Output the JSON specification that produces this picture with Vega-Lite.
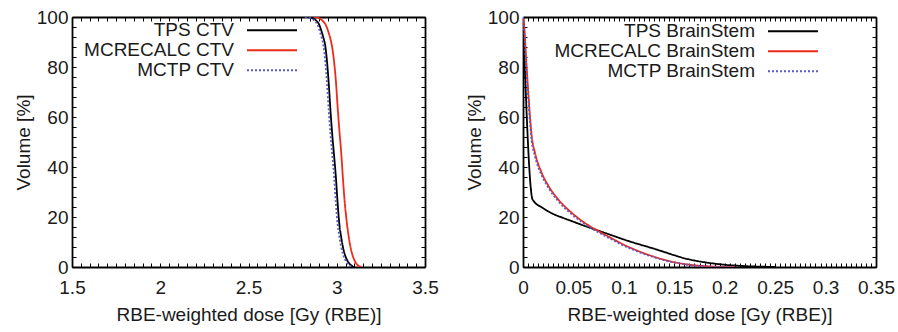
{
  "$schema": "https://vega.github.io/schema/vega-lite/v6.json",
  "padding": {"left": 14, "top": 8, "right": 2, "bottom": 2},
  "spacing": 26,
  "background": "white",
  "resolve": {"scale": {"color": "independent", "strokeDash": "independent"}, "legend": {"color": "independent", "strokeDash": "independent"}},
  "config": {
    "view": {"stroke": null},
    "axis": {
      "labelFont": "Liberation Sans", "titleFont": "Liberation Sans",
      "labelFontSize": 19, "titleFontSize": 19, "titleFontWeight": "normal",
      "labelColor": "#1a1a1a", "titleColor": "#1a1a1a",
      "domainColor": "#000000", "domainWidth": 1.8,
      "tickColor": "#000000", "tickWidth": 1, "tickSize": -4,
      "grid": false, "labelFlush": false, "labelOverlap": false
    },
    "axisX": {"labelPadding": 15, "titlePadding": 8},
    "axisY": {"labelPadding": 8, "titlePadding": 3},
    "legend": {
      "orient": "none", "padding": 0, "rowPadding": 0, "clipHeight": 19.5,
      "symbolType": "stroke", "symbolSize": 2500, "symbolStrokeWidth": 1.8,
      "labelAlign": "right", "labelOffset": -64,
      "labelFont": "Liberation Sans", "labelFontSize": 19, "labelColor": "#1a1a1a",
      "labelLimit": 400
    }
  },
  "datasets": {
    "ctv": [
      {"curve": "TPS CTV", "dose": 2.83, "volume": 100},
      {"curve": "TPS CTV", "dose": 2.86, "volume": 99.6},
      {"curve": "TPS CTV", "dose": 2.88, "volume": 98.8},
      {"curve": "TPS CTV", "dose": 2.90, "volume": 97},
      {"curve": "TPS CTV", "dose": 2.915, "volume": 94},
      {"curve": "TPS CTV", "dose": 2.925, "volume": 91.5},
      {"curve": "TPS CTV", "dose": 2.935, "volume": 88.5},
      {"curve": "TPS CTV", "dose": 2.945, "volume": 82},
      {"curve": "TPS CTV", "dose": 2.955, "volume": 73},
      {"curve": "TPS CTV", "dose": 2.965, "volume": 62},
      {"curve": "TPS CTV", "dose": 2.975, "volume": 52.5},
      {"curve": "TPS CTV", "dose": 2.985, "volume": 44.5},
      {"curve": "TPS CTV", "dose": 2.995, "volume": 36},
      {"curve": "TPS CTV", "dose": 3.005, "volume": 25.5},
      {"curve": "TPS CTV", "dose": 3.015, "volume": 17},
      {"curve": "TPS CTV", "dose": 3.025, "volume": 12},
      {"curve": "TPS CTV", "dose": 3.035, "volume": 8},
      {"curve": "TPS CTV", "dose": 3.045, "volume": 5.2},
      {"curve": "TPS CTV", "dose": 3.055, "volume": 3.3},
      {"curve": "TPS CTV", "dose": 3.065, "volume": 2},
      {"curve": "TPS CTV", "dose": 3.075, "volume": 1.1},
      {"curve": "TPS CTV", "dose": 3.085, "volume": 0.5},
      {"curve": "TPS CTV", "dose": 3.095, "volume": 0},
      {"curve": "MCRECALC CTV", "dose": 2.87, "volume": 100},
      {"curve": "MCRECALC CTV", "dose": 2.90, "volume": 99.5},
      {"curve": "MCRECALC CTV", "dose": 2.92, "volume": 98.5},
      {"curve": "MCRECALC CTV", "dose": 2.94, "volume": 96.5},
      {"curve": "MCRECALC CTV", "dose": 2.955, "volume": 93.5},
      {"curve": "MCRECALC CTV", "dose": 2.965, "volume": 91},
      {"curve": "MCRECALC CTV", "dose": 2.975, "volume": 87.5},
      {"curve": "MCRECALC CTV", "dose": 2.985, "volume": 82},
      {"curve": "MCRECALC CTV", "dose": 2.995, "volume": 74.5},
      {"curve": "MCRECALC CTV", "dose": 3.005, "volume": 64},
      {"curve": "MCRECALC CTV", "dose": 3.015, "volume": 54.5},
      {"curve": "MCRECALC CTV", "dose": 3.025, "volume": 46},
      {"curve": "MCRECALC CTV", "dose": 3.035, "volume": 35.5},
      {"curve": "MCRECALC CTV", "dose": 3.045, "volume": 26},
      {"curve": "MCRECALC CTV", "dose": 3.055, "volume": 19},
      {"curve": "MCRECALC CTV", "dose": 3.065, "volume": 13.5},
      {"curve": "MCRECALC CTV", "dose": 3.075, "volume": 9},
      {"curve": "MCRECALC CTV", "dose": 3.085, "volume": 5.8},
      {"curve": "MCRECALC CTV", "dose": 3.095, "volume": 3.6},
      {"curve": "MCRECALC CTV", "dose": 3.105, "volume": 2},
      {"curve": "MCRECALC CTV", "dose": 3.115, "volume": 1},
      {"curve": "MCRECALC CTV", "dose": 3.125, "volume": 0.4},
      {"curve": "MCRECALC CTV", "dose": 3.14, "volume": 0},
      {"curve": "MCTP CTV", "dose": 2.82, "volume": 100},
      {"curve": "MCTP CTV", "dose": 2.85, "volume": 99.6},
      {"curve": "MCTP CTV", "dose": 2.87, "volume": 98.8},
      {"curve": "MCTP CTV", "dose": 2.89, "volume": 97},
      {"curve": "MCTP CTV", "dose": 2.905, "volume": 94},
      {"curve": "MCTP CTV", "dose": 2.915, "volume": 91.5},
      {"curve": "MCTP CTV", "dose": 2.925, "volume": 88.5},
      {"curve": "MCTP CTV", "dose": 2.935, "volume": 82},
      {"curve": "MCTP CTV", "dose": 2.945, "volume": 73},
      {"curve": "MCTP CTV", "dose": 2.955, "volume": 62},
      {"curve": "MCTP CTV", "dose": 2.965, "volume": 52.5},
      {"curve": "MCTP CTV", "dose": 2.975, "volume": 44.5},
      {"curve": "MCTP CTV", "dose": 2.985, "volume": 36},
      {"curve": "MCTP CTV", "dose": 2.995, "volume": 25.5},
      {"curve": "MCTP CTV", "dose": 3.005, "volume": 17},
      {"curve": "MCTP CTV", "dose": 3.015, "volume": 12},
      {"curve": "MCTP CTV", "dose": 3.025, "volume": 8},
      {"curve": "MCTP CTV", "dose": 3.035, "volume": 5.2},
      {"curve": "MCTP CTV", "dose": 3.045, "volume": 3.3},
      {"curve": "MCTP CTV", "dose": 3.055, "volume": 2},
      {"curve": "MCTP CTV", "dose": 3.065, "volume": 1.1},
      {"curve": "MCTP CTV", "dose": 3.075, "volume": 0.5},
      {"curve": "MCTP CTV", "dose": 3.085, "volume": 0}
    ],
    "bs": [
      {"curve": "TPS BrainStem", "dose": 0, "volume": 100},
      {"curve": "TPS BrainStem", "dose": 0.0095, "volume": 27},
      {"curve": "TPS BrainStem", "dose": 0.02, "volume": 23.5},
      {"curve": "TPS BrainStem", "dose": 0.03, "volume": 21.2},
      {"curve": "TPS BrainStem", "dose": 0.04, "volume": 19.6},
      {"curve": "TPS BrainStem", "dose": 0.05, "volume": 18.1},
      {"curve": "TPS BrainStem", "dose": 0.06, "volume": 16.6},
      {"curve": "TPS BrainStem", "dose": 0.07, "volume": 15.2},
      {"curve": "TPS BrainStem", "dose": 0.08, "volume": 13.8},
      {"curve": "TPS BrainStem", "dose": 0.09, "volume": 12.4},
      {"curve": "TPS BrainStem", "dose": 0.10, "volume": 11.0},
      {"curve": "TPS BrainStem", "dose": 0.11, "volume": 9.7},
      {"curve": "TPS BrainStem", "dose": 0.12, "volume": 8.5},
      {"curve": "TPS BrainStem", "dose": 0.13, "volume": 7.3},
      {"curve": "TPS BrainStem", "dose": 0.14, "volume": 6.0},
      {"curve": "TPS BrainStem", "dose": 0.15, "volume": 4.7},
      {"curve": "TPS BrainStem", "dose": 0.16, "volume": 3.5},
      {"curve": "TPS BrainStem", "dose": 0.17, "volume": 2.6},
      {"curve": "TPS BrainStem", "dose": 0.18, "volume": 1.9},
      {"curve": "TPS BrainStem", "dose": 0.19, "volume": 1.35},
      {"curve": "TPS BrainStem", "dose": 0.20, "volume": 0.9},
      {"curve": "TPS BrainStem", "dose": 0.21, "volume": 0.6},
      {"curve": "TPS BrainStem", "dose": 0.22, "volume": 0.35},
      {"curve": "TPS BrainStem", "dose": 0.23, "volume": 0.2},
      {"curve": "TPS BrainStem", "dose": 0.24, "volume": 0.1},
      {"curve": "TPS BrainStem", "dose": 0.25, "volume": 0},
      {"curve": "MCRECALC BrainStem", "dose": 0, "volume": 100},
      {"curve": "MCRECALC BrainStem", "dose": 0.0013, "volume": 96},
      {"curve": "MCRECALC BrainStem", "dose": 0.003, "volume": 84},
      {"curve": "MCRECALC BrainStem", "dose": 0.0053, "volume": 69.5},
      {"curve": "MCRECALC BrainStem", "dose": 0.0086, "volume": 52.5},
      {"curve": "MCRECALC BrainStem", "dose": 0.012, "volume": 45.5},
      {"curve": "MCRECALC BrainStem", "dose": 0.0185, "volume": 37.7},
      {"curve": "MCRECALC BrainStem", "dose": 0.025, "volume": 32.6},
      {"curve": "MCRECALC BrainStem", "dose": 0.035, "volume": 27},
      {"curve": "MCRECALC BrainStem", "dose": 0.048, "volume": 21.8},
      {"curve": "MCRECALC BrainStem", "dose": 0.06, "volume": 18.0},
      {"curve": "MCRECALC BrainStem", "dose": 0.075, "volume": 14.3},
      {"curve": "MCRECALC BrainStem", "dose": 0.09, "volume": 11.0},
      {"curve": "MCRECALC BrainStem", "dose": 0.10, "volume": 8.9},
      {"curve": "MCRECALC BrainStem", "dose": 0.11, "volume": 7.1},
      {"curve": "MCRECALC BrainStem", "dose": 0.12, "volume": 5.5},
      {"curve": "MCRECALC BrainStem", "dose": 0.13, "volume": 4.1},
      {"curve": "MCRECALC BrainStem", "dose": 0.14, "volume": 2.9},
      {"curve": "MCRECALC BrainStem", "dose": 0.15, "volume": 1.9},
      {"curve": "MCRECALC BrainStem", "dose": 0.16, "volume": 1.2},
      {"curve": "MCRECALC BrainStem", "dose": 0.17, "volume": 0.7},
      {"curve": "MCRECALC BrainStem", "dose": 0.18, "volume": 0.35},
      {"curve": "MCRECALC BrainStem", "dose": 0.19, "volume": 0.15},
      {"curve": "MCRECALC BrainStem", "dose": 0.20, "volume": 0.05},
      {"curve": "MCRECALC BrainStem", "dose": 0.21, "volume": 0},
      {"curve": "MCTP BrainStem", "dose": 0, "volume": 100},
      {"curve": "MCTP BrainStem", "dose": 0.0013, "volume": 94},
      {"curve": "MCTP BrainStem", "dose": 0.003, "volume": 81},
      {"curve": "MCTP BrainStem", "dose": 0.0053, "volume": 67},
      {"curve": "MCTP BrainStem", "dose": 0.0086, "volume": 50.5},
      {"curve": "MCTP BrainStem", "dose": 0.012, "volume": 44},
      {"curve": "MCTP BrainStem", "dose": 0.0185, "volume": 36.7},
      {"curve": "MCTP BrainStem", "dose": 0.025, "volume": 31.8},
      {"curve": "MCTP BrainStem", "dose": 0.035, "volume": 26.3},
      {"curve": "MCTP BrainStem", "dose": 0.048, "volume": 21.2},
      {"curve": "MCTP BrainStem", "dose": 0.06, "volume": 17.5},
      {"curve": "MCTP BrainStem", "dose": 0.075, "volume": 13.8},
      {"curve": "MCTP BrainStem", "dose": 0.09, "volume": 10.6},
      {"curve": "MCTP BrainStem", "dose": 0.10, "volume": 8.5},
      {"curve": "MCTP BrainStem", "dose": 0.11, "volume": 6.8},
      {"curve": "MCTP BrainStem", "dose": 0.12, "volume": 5.2},
      {"curve": "MCTP BrainStem", "dose": 0.13, "volume": 3.9},
      {"curve": "MCTP BrainStem", "dose": 0.14, "volume": 2.7},
      {"curve": "MCTP BrainStem", "dose": 0.15, "volume": 1.8},
      {"curve": "MCTP BrainStem", "dose": 0.16, "volume": 1.1},
      {"curve": "MCTP BrainStem", "dose": 0.17, "volume": 0.6},
      {"curve": "MCTP BrainStem", "dose": 0.18, "volume": 0.3},
      {"curve": "MCTP BrainStem", "dose": 0.19, "volume": 0.12},
      {"curve": "MCTP BrainStem", "dose": 0.20, "volume": 0.04},
      {"curve": "MCTP BrainStem", "dose": 0.21, "volume": 0}
    ]
  },
  "hconcat": [
    {
      "width": 353, "height": 250,
      "data": {"name": "ctv"},
      "layer": [
        {
          "transform": [{"filter": "datum.curve !== 'MCTP CTV'"}],
          "mark": {"type": "line", "strokeWidth": 1.8, "interpolate": "monotone", "clip": true},
          "encoding": {
            "x": {"field": "dose", "type": "quantitative", "scale": {"domain": [1.5, 3.5], "nice": false},
                  "axis": {"orient": "bottom", "title": "RBE-weighted dose [Gy (RBE)]",
                           "values": [1.5,1.55,1.6,1.65,1.7,1.75,1.8,1.85,1.9,1.95,2,2.05,2.1,2.15,2.2,2.25,2.3,2.35,2.4,2.45,2.5,2.55,2.6,2.65,2.7,2.75,2.8,2.85,2.9,2.95,3,3.05,3.1,3.15,3.2,3.25,3.3,3.35,3.4,3.45,3.5],
                           "labelExpr": "abs(datum.value*2 - round(datum.value*2)) < 0.001 ? format(datum.value, '~g') : ''"}},
            "y": {"field": "volume", "type": "quantitative", "scale": {"domain": [0, 100], "nice": false},
                  "axis": {"orient": "left", "title": "Volume [%]",
                           "values": [0,4,8,12,16,20,24,28,32,36,40,44,48,52,56,60,64,68,72,76,80,84,88,92,96,100],
                           "labelExpr": "datum.value % 20 === 0 ? format(datum.value, 'd') : ''"}},
            "color": {"field": "curve", "type": "nominal",
                      "scale": {"domain": ["TPS CTV", "MCRECALC CTV", "MCTP CTV"], "range": ["#000000", "#ee2b1b", "#5a5ac8"]},
                      "legend": {"title": null, "legendX": 174, "legendY": 3.5, "encode": {"entries": {"update": {"width": {"value": 60}}}}}},
            "strokeDash": {"field": "curve", "type": "nominal",
                      "scale": {"domain": ["TPS CTV", "MCRECALC CTV", "MCTP CTV"], "range": [[1, 0], [1, 0], [2, 2]]},
                      "legend": {"title": null, "legendX": 174, "legendY": 3.5, "encode": {"entries": {"update": {"width": {"value": 60}}}}}}
          }
        },
        {
          "transform": [{"filter": "datum.curve === 'MCTP CTV'"}],
          "mark": {"type": "line", "strokeWidth": 1.8, "interpolate": "monotone", "clip": true},
          "encoding": {
            "x": {"field": "dose", "type": "quantitative", "scale": {"domain": [1.5, 3.5], "nice": false},
                  "axis": {"orient": "top", "title": null, "labels": false,
                           "values": [1.5,1.55,1.6,1.65,1.7,1.75,1.8,1.85,1.9,1.95,2,2.05,2.1,2.15,2.2,2.25,2.3,2.35,2.4,2.45,2.5,2.55,2.6,2.65,2.7,2.75,2.8,2.85,2.9,2.95,3,3.05,3.1,3.15,3.2,3.25,3.3,3.35,3.4,3.45,3.5]}},
            "y": {"field": "volume", "type": "quantitative", "scale": {"domain": [0, 100], "nice": false},
                  "axis": {"orient": "right", "title": null, "labels": false,
                           "values": [0,4,8,12,16,20,24,28,32,36,40,44,48,52,56,60,64,68,72,76,80,84,88,92,96,100]}},
            "color": {"field": "curve", "type": "nominal",
                      "scale": {"domain": ["TPS CTV", "MCRECALC CTV", "MCTP CTV"], "range": ["#000000", "#ee2b1b", "#5a5ac8"]},
                      "legend": {"title": null, "legendX": 174, "legendY": 3.5, "encode": {"entries": {"update": {"width": {"value": 60}}}}}},
            "strokeDash": {"field": "curve", "type": "nominal",
                      "scale": {"domain": ["TPS CTV", "MCRECALC CTV", "MCTP CTV"], "range": [[1, 0], [1, 0], [2, 2]]},
                      "legend": {"title": null, "legendX": 174, "legendY": 3.5, "encode": {"entries": {"update": {"width": {"value": 60}}}}}}
          }
        }
      ]
    },
    {
      "width": 353, "height": 250,
      "data": {"name": "bs"},
      "layer": [
        {
          "transform": [{"filter": "datum.curve !== 'MCTP BrainStem'"}],
          "mark": {"type": "line", "strokeWidth": 1.8, "interpolate": "monotone", "clip": true},
          "encoding": {
            "x": {"field": "dose", "type": "quantitative", "scale": {"domain": [0, 0.35], "nice": false},
                  "axis": {"orient": "bottom", "title": "RBE-weighted dose [Gy (RBE)]",
                           "values": [0,0.01,0.02,0.03,0.04,0.05,0.06,0.07,0.08,0.09,0.1,0.11,0.12,0.13,0.14,0.15,0.16,0.17,0.18,0.19,0.2,0.21,0.22,0.23,0.24,0.25,0.26,0.27,0.28,0.29,0.3,0.31,0.32,0.33,0.34,0.35,0.005,0.015,0.025,0.035,0.045,0.055,0.065,0.075,0.085,0.095,0.105,0.115,0.125,0.135,0.145,0.155,0.165,0.175,0.185,0.195,0.205,0.215,0.225,0.235,0.245,0.255,0.265,0.275,0.285,0.295,0.305,0.315,0.325,0.335,0.345],
                           "labelExpr": "abs(datum.value*20 - round(datum.value*20)) < 0.001 ? format(datum.value, '~g') : ''"}},
            "y": {"field": "volume", "type": "quantitative", "scale": {"domain": [0, 100], "nice": false},
                  "axis": {"orient": "left", "title": "Volume [%]",
                           "values": [0,4,8,12,16,20,24,28,32,36,40,44,48,52,56,60,64,68,72,76,80,84,88,92,96,100],
                           "labelExpr": "datum.value % 20 === 0 ? format(datum.value, 'd') : ''"}},
            "color": {"field": "curve", "type": "nominal",
                      "scale": {"domain": ["TPS BrainStem", "MCRECALC BrainStem", "MCTP BrainStem"], "range": ["#000000", "#ee2b1b", "#5a5ac8"]},
                      "legend": {"title": null, "legendX": 244, "legendY": 4.5, "encode": {"entries": {"update": {"width": {"value": 60}}}}}},
            "strokeDash": {"field": "curve", "type": "nominal",
                      "scale": {"domain": ["TPS BrainStem", "MCRECALC BrainStem", "MCTP BrainStem"], "range": [[1, 0], [1, 0], [2, 2]]},
                      "legend": {"title": null, "legendX": 244, "legendY": 4.5, "encode": {"entries": {"update": {"width": {"value": 60}}}}}}
          }
        },
        {
          "transform": [{"filter": "datum.curve === 'MCTP BrainStem'"}],
          "mark": {"type": "line", "strokeWidth": 1.8, "interpolate": "monotone", "clip": true},
          "encoding": {
            "x": {"field": "dose", "type": "quantitative", "scale": {"domain": [0, 0.35], "nice": false},
                  "axis": {"orient": "top", "title": null, "labels": false,
                           "values": [0,0.01,0.02,0.03,0.04,0.05,0.06,0.07,0.08,0.09,0.1,0.11,0.12,0.13,0.14,0.15,0.16,0.17,0.18,0.19,0.2,0.21,0.22,0.23,0.24,0.25,0.26,0.27,0.28,0.29,0.3,0.31,0.32,0.33,0.34,0.35,0.005,0.015,0.025,0.035,0.045,0.055,0.065,0.075,0.085,0.095,0.105,0.115,0.125,0.135,0.145,0.155,0.165,0.175,0.185,0.195,0.205,0.215,0.225,0.235,0.245,0.255,0.265,0.275,0.285,0.295,0.305,0.315,0.325,0.335,0.345]}},
            "y": {"field": "volume", "type": "quantitative", "scale": {"domain": [0, 100], "nice": false},
                  "axis": {"orient": "right", "title": null, "labels": false,
                           "values": [0,4,8,12,16,20,24,28,32,36,40,44,48,52,56,60,64,68,72,76,80,84,88,92,96,100]}},
            "color": {"field": "curve", "type": "nominal",
                      "scale": {"domain": ["TPS BrainStem", "MCRECALC BrainStem", "MCTP BrainStem"], "range": ["#000000", "#ee2b1b", "#5a5ac8"]},
                      "legend": {"title": null, "legendX": 244, "legendY": 4.5, "encode": {"entries": {"update": {"width": {"value": 60}}}}}},
            "strokeDash": {"field": "curve", "type": "nominal",
                      "scale": {"domain": ["TPS BrainStem", "MCRECALC BrainStem", "MCTP BrainStem"], "range": [[1, 0], [1, 0], [2, 2]]},
                      "legend": {"title": null, "legendX": 244, "legendY": 4.5, "encode": {"entries": {"update": {"width": {"value": 60}}}}}}
          }
        }
      ]
    }
  ]
}
